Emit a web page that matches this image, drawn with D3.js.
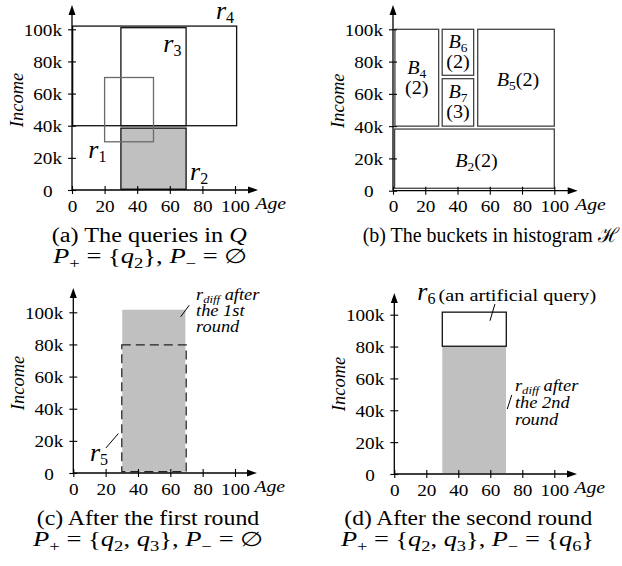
<!DOCTYPE html>
<html><head><meta charset="utf-8">
<script src="https://cdn.jsdelivr.net/npm/d3@7"></script>
<style>body{margin:0;background:#fff} svg{display:block} text{white-space:pre}</style>
</head><body><svg id="c" width="622" height="566"></svg>
<script>
// ---------- data ----------
const xTickValues = [0, 20, 40, 60, 80, 100];
const xTickLabels = ["0", "20", "40", "60", "80", "100"];
const yTickValues = [0, 20, 40, 60, 80, 100];           // Income in k
const yTickLabels = ["0", "20k", "40k", "60k", "80k", "100k"];

// (a) queries r1..r4 : Age range, Income range (k)
const querySubs   = ["1", "2", "3", "4"];
const queryAgeLo  = [20, 30, 30, 0.4];
const queryAgeHi  = [50, 70, 70, 101];
const queryIncLo  = [30, 0.5, 40, 40];
const queryIncHi  = [70, 38.5, 101, 102];
const queryFilled = [false, true, false, false];
const queryLabAge = [10, 72.4, 56, 88.3];
const queryLabInc = [19.7, 6.2, 86, 106.2];

// (b) buckets
const bucketSubs   = ["2", "4", "5", "6", "7"];
const bucketCounts = ["2", "2", "2", "2", "3"];
const bucketAgeLo  = [1, 1.2, 52.5, 30.5, 30.5];
const bucketAgeHi  = [100, 28.3, 100, 50, 50];
const bucketIncLo  = [1.5, 40, 40, 71.5, 40];
const bucketIncHi  = [38.2, 100, 100, 100, 69.4];
const bucketTwoLine = [false, true, false, true, true];

// (c) after first round
const diff1Age = [30.3, 69.3];
const diff1Inc = [0.8, 101.6];
const r5Age = [30, 69.8];
const r5Inc = [0.8, 79.7];
const diff1Lines = ["after", "the 1st", "round"];
// (d) after second round
const diff2Age = [30, 69.8];
const diff2Inc = [0.6, 80.2];
const r6Age = [30, 70];
const r6Inc = [80.2, 101.6];
const diff2Lines = ["after", "the 2nd", "round"];

// captions
const captionText = ["(a) The queries in ", "(b) The buckets in histogram ", "(c) After the first round", "(d) After the second round"];
const captionSym  = ["Q", "\u210B", "", ""];
const posSets = [["2"], null, ["2", "3"], ["2", "3"]];
const negSets = [[], null, [], ["6"]];

// ---------- drawing ----------
const FONT = "'Liberation Serif','Times New Roman',serif";
const SX = 1.2;
const svg = d3.select("#c");

const geoms = [
  {x0: 72,    x1: 235,   y0: 190,   y1: 29.3,  yTip: 5,   xTip: 258,   c1x: 51.7,  c1w: 195, c2x: 53,  c2w: 194, cy: 242},
  {x0: 393,   x1: 554.3, y0: 190.7, y1: 29.3,  yTip: 5,   xTip: 577.7, c1x: 362.7, c1w: 256, c2x: 0,   c2w: 0,   cy: 242},
  {x0: 73.3,  x1: 235,   y0: 473,   y1: 312.3, yTip: 288, xTip: 257,   c1x: 36.7,  c1w: 222.6, c2x: 33, c2w: 230, cy: 525.3},
  {x0: 394.3, x1: 554.3, y0: 474,   y1: 314.7, yTip: 293, xTip: 577,   c1x: 344.3, c1w: 248, c2x: 341, c2w: 253, cy: 525.3}
];

function rich(g, x, y, parts, opts = {}) {
  const sx = opts.sx || 1, anchor = opts.anchor || "start";
  const t = g.append("text")
    .attr("transform", `translate(${x},${y}) scale(${sx},1)`)
    .attr("font-family", FONT).attr("text-anchor", anchor).attr("fill", "#000");
  if (opts.len) t.attr("textLength", opts.len).attr("lengthAdjust", "spacingAndGlyphs");
  let cur = 0;
  parts.forEach(p => {
    const off = p.sub || 0;
    const ts = t.append("tspan").text(p.t).attr("font-size", p.size);
    if (p.it) ts.attr("font-style", "italic");
    if (off !== cur) { ts.attr("dy", off - cur); cur = off; }
  });
  return t;
}

const panels = geoms.map(geom => {
  const x = d3.scaleLinear().domain([0, 100]).range([geom.x0, geom.x1]);
  const y = d3.scaleLinear().domain([0, 100]).range([geom.y0, geom.y1]);
  const g = svg.append("g");
  return {x, y, g, geom};
});

function rect(p, a, i) {
  return p.g.append("rect")
    .attr("x", p.x(a[0])).attr("width", p.x(a[1]) - p.x(a[0]))
    .attr("y", p.y(i[1])).attr("height", p.y(i[0]) - p.y(i[1]));
}

function rLabel(p, age, inc, sub) {
  rich(p.g, p.x(age), p.y(inc), [
    {t: "r", it: true, size: 26},
    {t: sub, size: 16, sub: 4}
  ]);
}

function leader(p, a0, i0, a1, i1) {
  p.g.append("line").attr("x1", p.x(a0)).attr("y1", p.y(i0))
    .attr("x2", p.x(a1)).attr("y2", p.y(i1))
    .attr("stroke", "#000").attr("stroke-width", 1);
}

// ---- (a)
{
  const p = panels[0];
  querySubs.forEach((s, k) => {
    if (!queryFilled[k]) return;
    rect(p, [queryAgeLo[k], queryAgeHi[k]], [queryIncLo[k], queryIncHi[k]])
      .attr("fill", "#c0c0c0").attr("stroke", "#111").attr("stroke-width", 1.3);
  });
  [3, 2, 0].forEach(k => {
    rect(p, [queryAgeLo[k], queryAgeHi[k]], [queryIncLo[k], queryIncHi[k]])
      .attr("fill", "none").attr("stroke", k === 0 ? "#6a6a6a" : "#111").attr("stroke-width", 1.3);
  });
  querySubs.forEach((s, k) => rLabel(p, queryLabAge[k], queryLabInc[k], s));
}

// ---- (b)
{
  const p = panels[1];
  bucketSubs.forEach((s, k) => {
    rect(p, [bucketAgeLo[k], bucketAgeHi[k]], [bucketIncLo[k], bucketIncHi[k]])
      .attr("fill", "none").attr("stroke", "#444").attr("stroke-width", 1.3);
    const cx = p.x((bucketAgeLo[k] + bucketAgeHi[k]) / 2);
    const cy = p.y((bucketIncLo[k] + bucketIncHi[k]) / 2);
    if (bucketTwoLine[k]) {
      rich(p.g, cx, cy - 4, [{t: "B", it: true, size: 18}, {t: s, size: 12, sub: 4}], {sx: 1.12, anchor: "middle"});
      rich(p.g, cx, cy + 16, [{t: "(" + bucketCounts[k] + ")", size: 18}], {sx: 1.12, anchor: "middle"});
    } else {
      rich(p.g, cx + 2, cy + 8, [{t: "B", it: true, size: 18}, {t: s, size: 12, sub: 4}, {t: "(" + bucketCounts[k] + ")", size: 18}], {sx: 1.12, anchor: "middle"});
    }
  });
}

// ---- (c)
{
  const p = panels[2];
  rect(p, diff1Age, diff1Inc).attr("fill", "#c0c0c0").attr("stroke", "none");
  rect(p, r5Age, r5Inc).attr("fill", "none").attr("stroke", "#222")
    .attr("stroke-width", 1.3).attr("stroke-dasharray", "9,5");
  leader(p, 71.7, 104.4, 66.4, 97.2);
  rich(p.g, p.x(75.9), p.y(107.8), [
    {t: "r", it: true, size: 16}, {t: "diff", it: true, size: 11, sub: 3}, {t: " " + diff1Lines[0], it: true, size: 16}
  ], {sx: 1.15});
  rich(p.g, p.x(75.9), p.y(97.5), [{t: diff1Lines[1], it: true, size: 16}], {sx: 1.15});
  rich(p.g, p.x(75.9), p.y(87.6), [{t: diff1Lines[2], it: true, size: 16}], {sx: 1.15});
  leader(p, 27.8, 24.5, 20.2, 15.6);
  rLabel(p, 10.3, 7.3, "5");
}

// ---- (d)
{
  const p = panels[3];
  rect(p, diff2Age, diff2Inc).attr("fill", "#c0c0c0").attr("stroke", "none");
  rect(p, r6Age, r6Inc).attr("fill", "#fff").attr("stroke", "#111").attr("stroke-width", 1.3);
  leader(p, 62.9, 106.7, 59.8, 96.2);
  rLabel(p, 14.4, 109.4, "6");
  rich(p.g, p.x(27.6), p.y(108.6), [{t: "(an artificial query)", size: 17.5}], {sx: 1.16});
  leader(p, 73.4, 49.6, 70.6, 40.8);
  rich(p.g, p.x(75.4), p.y(52.3), [
    {t: "r", it: true, size: 16}, {t: "diff", it: true, size: 11, sub: 3}, {t: " " + diff2Lines[0], it: true, size: 16}
  ], {sx: 1.15});
  rich(p.g, p.x(75.4), p.y(41.2), [{t: diff2Lines[1], it: true, size: 16}], {sx: 1.15});
  rich(p.g, p.x(75.4), p.y(30.8), [{t: diff2Lines[2], it: true, size: 16}], {sx: 1.15});
}

// ---- axes, labels, captions
panels.forEach((p, k) => {
  const {x, y, g, geom} = p;
  const xa = g.append("g").attr("transform", `translate(0,${geom.y0})`)
    .call(d3.axisBottom(x).tickValues(xTickValues).tickFormat((d, i) => xTickLabels[i]).tickSize(4));
  xa.select(".domain").remove();
  xa.selectAll(".tick line").attr("y1", -4).attr("y2", 4).attr("stroke", "#000").attr("stroke-width", 1.1);
  xa.selectAll(".tick text").attr("y", 0).attr("dy", null)
    .attr("transform", "translate(0,21.5) scale(1.2,1)")
    .attr("font-size", 16).attr("font-family", FONT).attr("fill", "#000");

  const ya = g.append("g").attr("transform", `translate(${geom.x0},0)`)
    .call(d3.axisLeft(y).tickValues(yTickValues).tickFormat((d, i) => yTickLabels[i]).tickSize(4));
  ya.select(".domain").remove();
  ya.selectAll(".tick line").attr("x1", -4).attr("x2", 4).attr("stroke", "#000").attr("stroke-width", 1.1);
  ya.selectAll(".tick text").attr("x", 0).attr("dy", "0.38em")
    .attr("transform", d => `translate(${d === 0 ? -19.5 : -10},0) scale(1.2,1)`)
    .attr("font-size", 16).attr("font-family", FONT).attr("fill", "#000");

  g.append("line").attr("x1", geom.x0).attr("y1", geom.y0).attr("x2", geom.x0).attr("y2", geom.yTip + 8)
    .attr("stroke", "#000").attr("stroke-width", 1.3);
  g.append("line").attr("x1", geom.x0).attr("y1", geom.y0).attr("x2", geom.xTip - 8).attr("y2", geom.y0)
    .attr("stroke", "#000").attr("stroke-width", 1.3);
  g.append("path").attr("d", `M${geom.x0},${geom.yTip} L${geom.x0 - 3.5},${geom.yTip + 10} L${geom.x0 + 3.5},${geom.yTip + 10}Z`).attr("fill", "#000");
  g.append("path").attr("d", `M${geom.xTip},${geom.y0} L${geom.xTip - 10},${geom.y0 - 3.5} L${geom.xTip - 10},${geom.y0 + 3.5}Z`).attr("fill", "#000");

  rich(g, geom.xTip - 2.5, geom.y0 + 19.3, [{t: "Age", it: true, size: 16.4}], {sx: SX});
  g.append("text").attr("transform", `translate(${geom.x0 - 49.5},${geom.y0 - 90}) rotate(-90)`)
    .attr("text-anchor", "middle").attr("font-family", FONT).attr("font-style", "italic")
    .attr("font-size", 18.5).attr("fill", "#000").text("Income");

  const c1 = [{t: captionText[k], size: 20}];
  if (captionSym[k]) c1.push({t: captionSym[k], size: 20, it: captionSym[k] === "Q"});
  rich(g, geom.c1x, geom.cy, c1, {len: geom.c1w});

  if (posSets[k]) {
    const parts = [{t: "P", it: true, size: 20}, {t: "+", size: 14, sub: 5}, {t: " = {", size: 20}];
    posSets[k].forEach((q, j) => {
      if (j > 0) parts.push({t: ", ", size: 20});
      parts.push({t: "q", it: true, size: 20}, {t: q, size: 14, sub: 5});
    });
    parts.push({t: "}, ", size: 20}, {t: "P", it: true, size: 20}, {t: "\u2212", size: 14, sub: 5});
    if (negSets[k].length === 0) {
      parts.push({t: " = \u2205", size: 20});
    } else {
      parts.push({t: " = {", size: 20});
      negSets[k].forEach((q, j) => {
        if (j > 0) parts.push({t: ", ", size: 20});
        parts.push({t: "q", it: true, size: 20}, {t: q, size: 14, sub: 5});
      });
      parts.push({t: "}", size: 20});
    }
    rich(g, geom.c2x, geom.cy + 21, parts, {len: geom.c2w});
  }
});
</script>
</body></html>
